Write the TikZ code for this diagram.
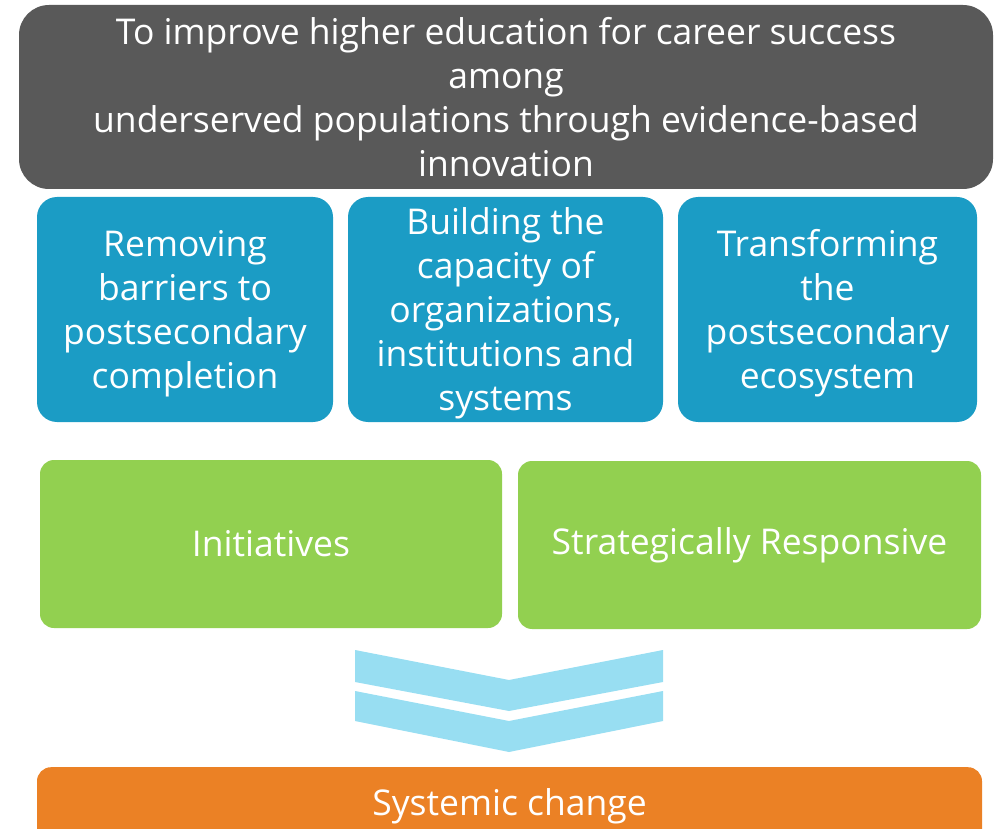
\documentclass[tikz,border=0pt]{standalone}
\usepackage{fontspec}
\setmainfont[Ligatures=NoCommon]{Open Sans}
\definecolor{goalgray}{HTML}{595959}
\definecolor{pillarblue}{HTML}{1B9CC5}
\definecolor{leafgreen}{HTML}{92D050}
\definecolor{chevronblue}{HTML}{98DEF2}
\definecolor{changeorange}{HTML}{EB8125}
\begin{document}
\begin{tikzpicture}[x=1pt,y=-1pt,
  box/.style={rectangle, align=center, text=white, inner sep=0pt,
    font=\fontsize{35.5}{44}\selectfont},
  goal/.style={box, fill=goalgray, rounded corners=30pt,
    minimum width=974pt, minimum height=184pt},
  pillar/.style={box, fill=pillarblue, rounded corners=20pt,
    minimum height=225pt},
  pillartext/.style={box, yshift=-4pt},
  lever/.style={box, fill=leafgreen, rounded corners=14pt,
    minimum height=168pt},
  outcome/.style={box, fill=changeorange, rounded corners=14pt,
    minimum width=945pt, minimum height=90pt},
  chevron/.style={fill=chevronblue, draw=none}]
\useasboundingbox (0,0) rectangle (997,829);

% mission statement
\node[goal] (mission) at (506,97)
  {To improve higher education for career success\\among\\underserved populations through evidence-based\\innovation};

% three strategic pillars
\node[pillar, minimum width=296pt] (barriers) at (185,309.5) {};
\node[pillar, minimum width=315pt] (capacity) at (505.5,309.5) {};
\node[pillar, minimum width=299pt] (ecosystem) at (827.5,309.5) {};
\node[pillartext] (barrierslabel) at (barriers.center)
  {Removing\\barriers to\\postsecondary\\completion};
\node[pillartext] (capacitylabel) at (capacity.center)
  {Building the\\capacity of\\organizations,\\institutions and\\systems};
\node[pillartext] (ecosystemlabel) at (ecosystem.center)
  {Transforming\\the\\postsecondary\\ecosystem};

% approaches
\node[lever, minimum width=462pt] (initiatives) at (271,544) {Initiatives};
\node[lever, minimum width=463pt] (responsive) at (749.5,545) {Strategically Responsive};

% double chevron pointing down
\fill[chevron] (355,650) -- (509,680) -- (663,650) -- (663,682) -- (509,711) -- (355,682) -- cycle;
\fill[chevron] (355,691) -- (509,721) -- (663,691) -- (663,721) -- (509,752) -- (355,721) -- cycle;

% result
\node[outcome, anchor=north] (systemic) at (509.5,767) {};
\node[box, anchor=base] (systemiclabel) at (509.5,815) {Systemic change};
\end{tikzpicture}
\end{document}
